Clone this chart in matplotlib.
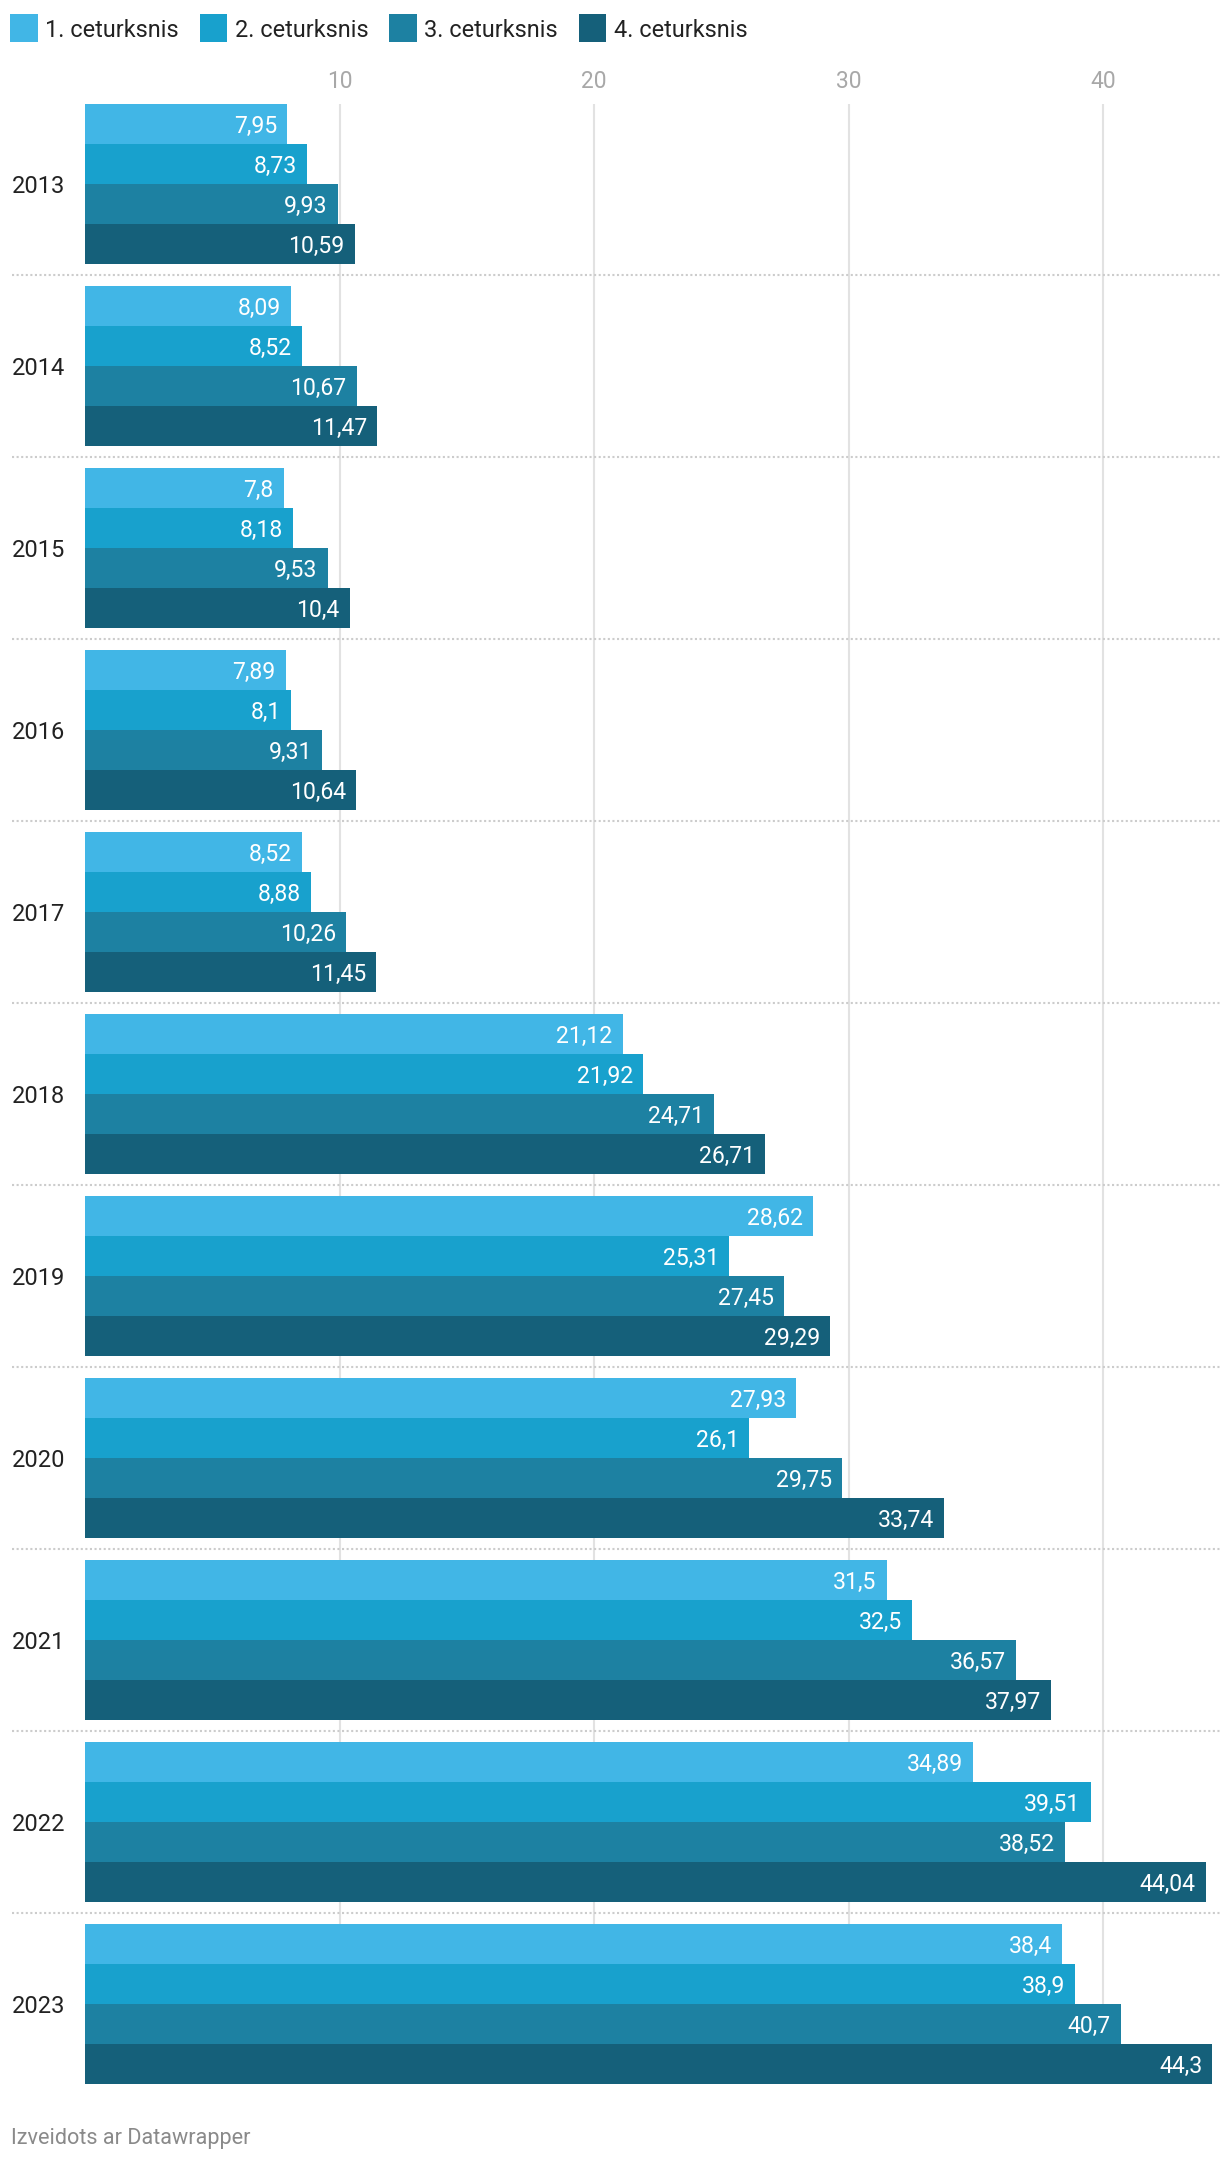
import matplotlib
matplotlib.use("Agg")
import matplotlib.pyplot as plt
import matplotlib.transforms as mtransforms
from matplotlib.patches import Rectangle

plt.rcParams['font.family'] = ['Roboto', 'DejaVu Sans']

years = ["2013", "2014", "2015", "2016", "2017", "2018", "2019", "2020", "2021", "2022", "2023"]
series_names = ["1. ceturksnis", "2. ceturksnis", "3. ceturksnis", "4. ceturksnis"]
q1 = [7.95, 8.09, 7.8, 7.89, 8.52, 21.12, 28.62, 27.93, 31.5, 34.89, 38.4]
q2 = [8.73, 8.52, 8.18, 8.1, 8.88, 21.92, 25.31, 26.1, 32.5, 39.51, 38.9]
q3 = [9.93, 10.67, 9.53, 9.31, 10.26, 24.71, 27.45, 29.75, 36.57, 38.52, 40.7]
q4 = [10.59, 11.47, 10.4, 10.64, 11.45, 26.71, 29.29, 33.74, 37.97, 44.04, 44.3]
series = [q1, q2, q3, q4]
colors = ["#41b6e6", "#18a1cd", "#1d81a2", "#15607a"]
xticks = [10, 20, 30, 40]
footer = "Izveidots ar Datawrapper"

W, H = 1220, 2162
fig = plt.figure(figsize=(W / 100, H / 100), dpi=100)

GROUP = 182.0
BAR = 40.0
ax_left, ax_right = 85, 1220
ax_top, ax_bottom = 104, 2084
unit = 25.45
ax = fig.add_axes([ax_left / W, (H - ax_bottom) / H, (ax_right - ax_left) / W, (ax_bottom - ax_top) / H])
ax.set_xlim(0, (ax_right - ax_left) / unit)
ax.set_ylim((len(years) - 1) * GROUP + 4 * BAR, 0)

for j, (vals, c) in enumerate(zip(series, colors)):
    ys = [i * GROUP + j * BAR + BAR / 2 for i in range(len(years))]
    ax.barh(ys, vals, height=BAR, color=c, linewidth=0, zorder=2)
    for y, v in zip(ys, vals):
        lbl = f"{v:g}".replace(".", ",")
        ax.annotate(lbl, xy=(v, y), xytext=(-10, 0), textcoords="offset pixels",
                    ha="right", va="center_baseline", color="white", fontsize=16.6, zorder=3)

for s in ax.spines.values():
    s.set_visible(False)
ax.set_yticks([])
ax.set_xticks(xticks)
ax.set_xticklabels([str(t) for t in xticks])
ax.tick_params(axis="x", top=True, bottom=False, labeltop=True, labelbottom=False,
               length=0, pad=8, labelsize=16.4, labelcolor="#a8a8a8")
ax.grid(axis="x", color="#e2e2e2", linewidth=1.5, zorder=0)
ax.set_axisbelow(True)

blend = mtransforms.blended_transform_factory(ax.transAxes, ax.transData)
x0 = (12 - ax_left) / (ax_right - ax_left)
for i in range(len(years) - 1):
    y = i * GROUP + 4 * BAR + (GROUP - 4 * BAR) / 2
    ax.plot([x0, 1], [y, y], transform=blend, color="#cccccc", lw=1.5,
            ls=(0, (1, 1.2)), clip_on=False, zorder=1)

for i, yr in enumerate(years):
    ax.text(x0, i * GROUP + 2 * BAR, yr, transform=blend, ha="left", va="center_baseline",
            fontsize=17, color="#222222")

# legend
fig.canvas.draw()
renderer = fig.canvas.get_renderer()
x = 10
for name, c in zip(series_names, colors):
    fig.add_artist(Rectangle((x / W, 1 - 42 / H), 27.5 / W, 28 / H, transform=fig.transFigure,
                             facecolor=c, edgecolor="none"))
    t = fig.text((x + 35) / W, 1 - 28 / H, name, ha="left", va="center_baseline",
                 fontsize=16.9, color="#222222")
    bb = t.get_window_extent(renderer)
    x = bb.x1 + 21

fig.text(11 / W, 1 - 2136 / H, footer, ha="left", va="center_baseline", fontsize=15.6, color="#8a8a8a")

fig.savefig("out.png", dpi=100)
